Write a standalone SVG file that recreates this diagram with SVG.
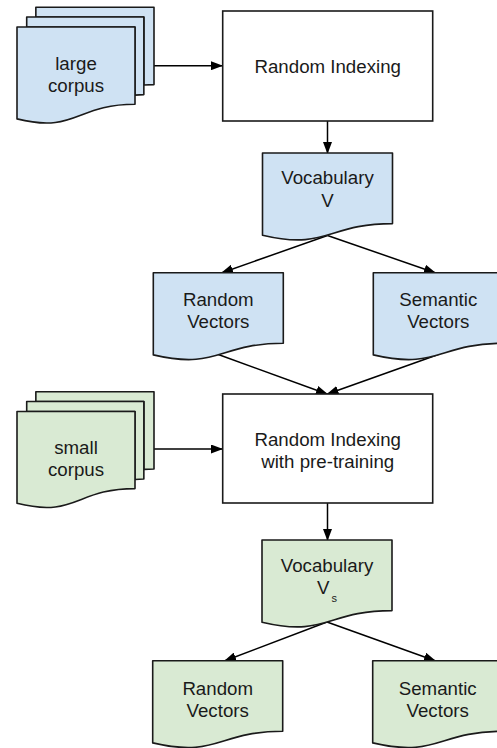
<svg xmlns="http://www.w3.org/2000/svg" xmlns:xlink="http://www.w3.org/1999/xlink" width="497" height="748" viewBox="0 0 497 748">
<style>
  .blue { fill: #cfe2f3; }
  .green { fill: #d9ead3; }
  .shape { stroke: #1a1a1a; stroke-width: 1.6; stroke-linejoin: round; }
  .box { fill: #ffffff; stroke: #1a1a1a; stroke-width: 1.6; }
  .lbl { font-family: "Liberation Sans", Arial, sans-serif; font-size: 18.7px; fill: #1a1a1a; text-anchor: middle; }
  .conn line { stroke: #000; stroke-width: 1.5; fill: none; marker-end: url(#arrow); }
</style>
<defs>
  <marker id="arrow" markerUnits="userSpaceOnUse" markerWidth="12" markerHeight="9" viewBox="0 0 12 9" refX="11" refY="4.5" orient="auto">
    <path d="M0,0 L12,4.5 L0,9 Z" fill="#000"/>
  </marker>
  <path id="doc" d="M0,0 H130 V70.6 C65,70.6 65,97.5 0,82.2 Z"/>
  <g id="multidoc">
    <path d="M18.85,9.75 L18.85,0 L137,0 L137,77.3 C131.9,77.3 126.85,77.7 126.85,77.7 L126.85,9.75 Z"/>
    <path d="M9.7,19.74 L9.7,9.75 L126.85,9.75 L126.85,87.28 C122.4,87.28 117.94,87.8 117.94,87.8 L117.94,19.74 Z"/>
    <path d="M0,111.6 C58.9,126.4 58.9,96.9 118,96.9 L118,19.74 L0,19.74 Z"/>
  </g>
</defs>

<g id="connectors" class="conn">
  <line x1="154" y1="65.7" x2="222" y2="65.7"/>
  <line x1="327.5" y1="121" x2="327.5" y2="153"/>
  <line x1="327.5" y1="235.5" x2="222" y2="272.7"/>
  <line x1="327.5" y1="235.5" x2="435" y2="272.7"/>
  <line x1="218.3" y1="354.5" x2="327" y2="394"/>
  <line x1="438.3" y1="354.5" x2="327.5" y2="394"/>
  <line x1="154" y1="449" x2="222" y2="449"/>
  <line x1="327.5" y1="503" x2="327.5" y2="540"/>
  <line x1="327" y1="622" x2="225" y2="660.7"/>
  <line x1="327" y1="622" x2="435" y2="660.7"/>
</g>

<g id="large-corpus">
  <use xlink:href="#multidoc" href="#multidoc" transform="translate(17,7.3)" class="blue shape"/>
  <text class="lbl" x="76" y="70">large</text>
  <text class="lbl" x="76" y="92">corpus</text>
</g>

<g id="random-indexing">
  <rect class="box" x="222.7" y="11" width="210" height="110"/>
  <text class="lbl" x="327.7" y="73">Random Indexing</text>
</g>

<g id="vocabulary-v">
  <use xlink:href="#doc" href="#doc" x="262.5" y="153" class="blue shape"/>
  <text class="lbl" x="327.5" y="184">Vocabulary</text>
  <text class="lbl" x="327.5" y="206.5">V</text>
</g>

<g id="random-vectors-1">
  <use xlink:href="#doc" href="#doc" x="153.3" y="272.7" class="blue shape"/>
  <text class="lbl" x="218.3" y="306">Random</text>
  <text class="lbl" x="218.3" y="327.5">Vectors</text>
</g>

<g id="semantic-vectors-1">
  <use xlink:href="#doc" href="#doc" x="373.3" y="272.7" class="blue shape"/>
  <text class="lbl" x="438.3" y="306">Semantic</text>
  <text class="lbl" x="438.3" y="327.5">Vectors</text>
</g>

<g id="small-corpus">
  <use xlink:href="#multidoc" href="#multidoc" transform="translate(17,391.7)" class="green shape"/>
  <text class="lbl" x="76" y="453.5">small</text>
  <text class="lbl" x="76" y="475.5">corpus</text>
</g>

<g id="random-indexing-pretraining">
  <rect class="box" x="222.7" y="394" width="210" height="109"/>
  <text class="lbl" x="327.7" y="445.5">Random Indexing</text>
  <text class="lbl" x="327.7" y="467.5">with pre-training</text>
</g>

<g id="vocabulary-vs">
  <use xlink:href="#doc" href="#doc" x="262" y="540" class="green shape"/>
  <text class="lbl" x="327" y="572.3">Vocabulary</text>
  <text class="lbl" x="327" y="594">V<tspan font-size="11" dx="2" dy="7.5">s</tspan></text>
</g>

<g id="random-vectors-2">
  <use xlink:href="#doc" href="#doc" x="152.7" y="660.7" class="green shape"/>
  <text class="lbl" x="217.7" y="695">Random</text>
  <text class="lbl" x="217.7" y="716.5">Vectors</text>
</g>

<g id="semantic-vectors-2">
  <use xlink:href="#doc" href="#doc" x="372.7" y="660.7" class="green shape"/>
  <text class="lbl" x="437.7" y="695">Semantic</text>
  <text class="lbl" x="437.7" y="716.5">Vectors</text>
</g>
</svg>
